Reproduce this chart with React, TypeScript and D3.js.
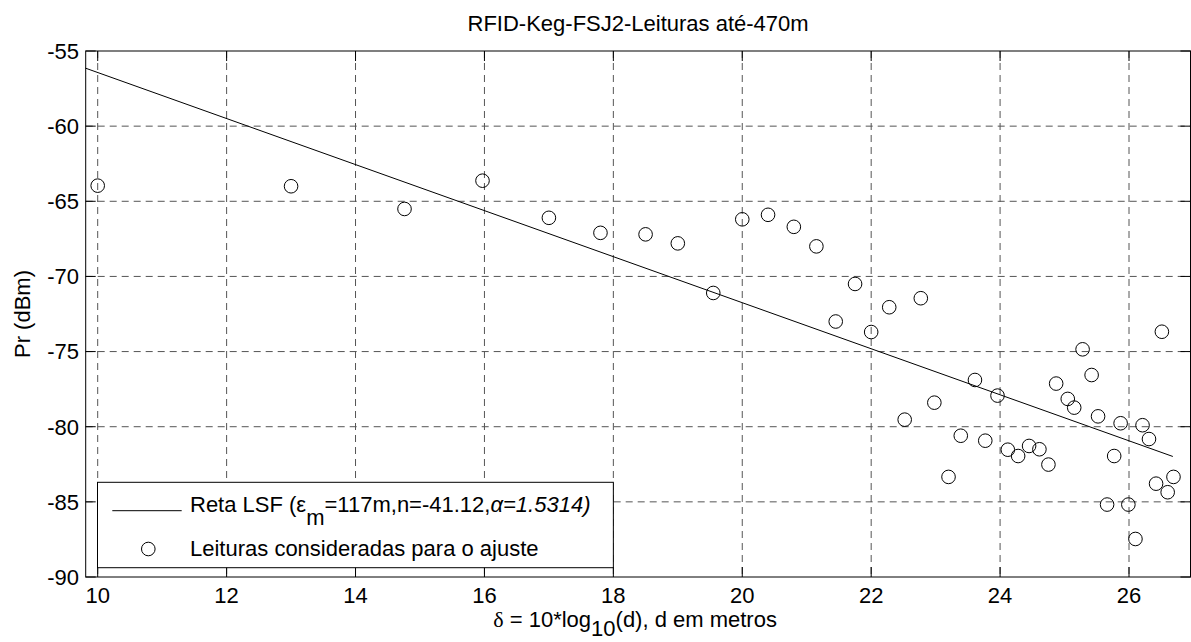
import React from "react";
import * as d3 from "d3";

const titleText = "RFID-Keg-FSJ2-Leituras até-470m";
const yLabelText = "Pr (dBm)";
const xTicks = [10, 12, 14, 16, 18, 20, 22, 24, 26];
const yTicks = [-90, -85, -80, -75, -70, -65, -60, -55];

// Readings (delta, Pr)
const readX = [
  10.0, 13.0, 14.76, 15.97, 17.0, 17.8, 18.5, 19.0, 19.55, 20.0, 20.4, 20.8,
  21.15, 21.45, 21.75, 22.0, 22.28, 22.77, 26.51, 25.28, 25.42, 24.87, 23.61,
  23.96, 25.05, 25.15, 25.52, 25.87, 26.21, 26.31, 22.98, 22.52, 23.39, 23.77,
  24.12, 24.28, 24.45, 24.61, 24.75, 25.77, 23.2, 26.69, 26.42, 26.6, 25.66,
  25.99, 26.1,
];
const readY = [
  -63.96, -64.0, -65.51, -63.63, -66.1, -67.1, -67.2, -67.8, -71.1, -66.2,
  -65.9, -66.7, -68.0, -73.0, -70.5, -73.7, -72.05, -71.45, -73.68, -74.85,
  -76.56, -77.13, -76.89, -77.93, -78.15, -78.73, -79.31, -79.77, -79.9,
  -80.82, -78.4, -79.53, -80.6, -80.93, -81.53, -81.95, -81.28, -81.5, -82.52,
  -81.95, -83.34, -83.34, -83.79, -84.36, -85.18, -85.18, -87.47,
];

// LSF fitted line endpoints (delta, Pr)
const fitX = [9.81, 26.68];
const fitY = [-56.14, -81.98];

const FONT = "'Liberation Sans', Arial, Helvetica, sans-serif";

export default function App() {
  const W = 1191;
  const H = 642;
  const x = d3.scaleLinear().domain([10, 26]).range([97.7, 1129]);
  const y = d3.scaleLinear().domain([-90, -55]).range([577, 51]);
  const left = 85.7;
  const right = 1190.5;
  const top = y(-55);
  const bottom = y(-90);
  const tickLen = 10;

  const linePath = d3
    .line<number>()
    .x((d, i) => x(fitX[i]))
    .y((d, i) => y(fitY[i]))(fitX);

  const gridColor = "#555";
  const dash = "7,5";

  // legend geometry
  const lgLeft = x(10) - 0.2;
  const lgRight = x(18);
  const lgTop = 482.3;
  const lgBottom = 567.7;

  return (
    <svg
      width={W}
      height={H}
      style={{ position: "absolute", left: 0, top: 0, background: "#fff" }}
      fontFamily={FONT}
    >
      <rect x={0} y={0} width={W} height={H} fill="#fff" />
      {/* grid */}
      {xTicks.map((t) => (
        <line
          key={"gx" + t}
          x1={x(t)}
          x2={x(t)}
          y1={top}
          y2={bottom}
          stroke={gridColor}
          strokeWidth={1}
          strokeDasharray={dash}
        />
      ))}
      {yTicks
        .filter((t) => t !== -55 && t !== -90)
        .map((t) => (
          <line
            key={"gy" + t}
            x1={left}
            x2={right}
            y1={y(t)}
            y2={y(t)}
            stroke={gridColor}
            strokeWidth={1}
            strokeDasharray={dash}
          />
        ))}
      {/* ticks */}
      {xTicks.map((t) => (
        <g key={"tx" + t}>
          <line x1={x(t)} x2={x(t)} y1={bottom} y2={bottom - tickLen} stroke="#000" />
          <line x1={x(t)} x2={x(t)} y1={top} y2={top + tickLen} stroke="#000" />
        </g>
      ))}
      {yTicks.map((t) => (
        <g key={"ty" + t}>
          <line x1={left} x2={left + tickLen} y1={y(t)} y2={y(t)} stroke="#000" />
          <line x1={right} x2={right - tickLen} y1={y(t)} y2={y(t)} stroke="#000" />
        </g>
      ))}
      {/* fit line */}
      <path d={linePath || ""} fill="none" stroke="#000" strokeWidth={1} />
      {/* readings */}
      {readX.map((v, i) => (
        <circle
          key={"p" + i}
          cx={x(v)}
          cy={y(readY[i])}
          r={6.8}
          fill="none"
          stroke="#000"
          strokeWidth={1}
        />
      ))}
      {/* axes box */}
      <rect
        x={left}
        y={top}
        width={right - left}
        height={bottom - top}
        fill="none"
        stroke="#000"
        strokeWidth={1}
      />
      {/* tick labels */}
      {xTicks.map((t) => (
        <text key={"lx" + t} x={x(t)} y={603} fontSize={22} textAnchor="middle" fill="#000">
          {t}
        </text>
      ))}
      {yTicks.map((t) => (
        <text
          key={"ly" + t}
          x={79}
          y={y(t)}
          dy="0.36em"
          fontSize={22}
          textAnchor="end"
          fill="#000"
        >
          {t}
        </text>
      ))}
      {/* title */}
      <text x={(left + right) / 2} y={31} fontSize={22} textAnchor="middle" fill="#000">
        {titleText}
      </text>
      {/* y label */}
      <text
        transform={`translate(30,${(top + bottom) / 2}) rotate(-90)`}
        fontSize={22}
        textAnchor="middle"
        fill="#000"
      >
        {yLabelText}
      </text>
      {/* x label */}
      <text x={(left + right) / 2 - 3} y={627} fontSize={22} textAnchor="middle" fill="#000">
        <tspan fontFamily="'Liberation Serif', 'Times New Roman', serif">δ</tspan>
        <tspan> = 10*log</tspan>
        <tspan dy={9}>10</tspan>
        <tspan dy={-9}>(d), d em metros</tspan>
      </text>
      {/* legend */}
      <rect
        x={lgLeft}
        y={lgTop}
        width={lgRight - lgLeft}
        height={lgBottom - lgTop}
        fill="#fff"
        stroke="#000"
        strokeWidth={1}
      />
      <line x1={112.3} x2={181.7} y1={510.7} y2={510.7} stroke="#000" strokeWidth={1} />
      <text x={190} y={511.7} fontSize={22} fill="#000">
        <tspan>Reta LSF (ε</tspan>
        <tspan dy={13}>m</tspan>
        <tspan dy={-13}>=117m,n=-41.12,</tspan>
        <tspan fontStyle="italic">α=1.5314)</tspan>
      </text>
      <circle cx={148.3} cy={549} r={6.8} fill="none" stroke="#000" strokeWidth={1} />
      <text x={190} y={556} fontSize={22} fill="#000">
        Leituras consideradas para o ajuste
      </text>
    </svg>
  );
}
